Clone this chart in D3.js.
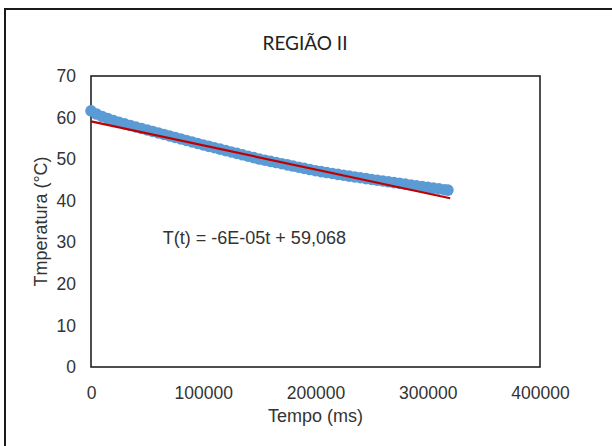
<!DOCTYPE html>
<html>
<head>
<meta charset="utf-8">
<script src="https://cdn.jsdelivr.net/npm/d3@7/dist/d3.min.js"></script>
<style>
  html, body { margin: 0; padding: 0; background: #fff; }
  svg { display: block; }
  .tick-label, .axis-title, .eq-label { font-family: 'Liberation Sans', Arial, sans-serif; fill: #333; }
  .chart-title { font-family: Lato, 'Open Sans', sans-serif; fill: #222; }
</style>
</head>
<body>
<div id="chart"></div>
<script>
(function () {
  'use strict';

  // measured samples, Região II
  var timeMs = [
    0, 5000, 10000, 15000, 20000, 25000, 30000, 35000, 40000, 45000,
    50000, 55000, 60000, 65000, 70000, 75000, 80000, 85000, 90000, 95000,
    100000, 105000, 110000, 115000, 120000, 125000, 130000, 135000, 140000, 145000,
    150000, 155000, 160000, 165000, 170000, 175000, 180000, 185000, 190000, 195000,
    200000, 205000, 210000, 215000, 220000, 225000, 230000, 235000, 240000, 245000,
    250000, 255000, 260000, 265000, 270000, 275000, 280000, 285000, 290000, 295000,
    300000, 305000, 310000, 315000, 318000
  ];
  var temperature = [
    61.60, 60.85, 60.25, 59.75, 59.30, 58.88, 58.48, 58.10, 57.73, 57.37,
    57.02, 56.66, 56.30, 55.94, 55.58, 55.22, 54.86, 54.50, 54.14, 53.78,
    53.42, 53.08, 52.74, 52.40, 52.06, 51.72, 51.38, 51.04, 50.70, 50.36,
    50.02, 49.74, 49.46, 49.18, 48.90, 48.62, 48.34, 48.06, 47.78, 47.50,
    47.22, 47.00, 46.78, 46.56, 46.34, 46.12, 45.92, 45.72, 45.52, 45.32,
    45.12, 44.93, 44.74, 44.55, 44.36, 44.17, 43.98, 43.79, 43.60, 43.41,
    43.22, 43.03, 42.84, 42.65, 42.55
  ];

  // linear trendline
  var FIT_INTERCEPT = 59.068;
  var FIT_SLOPE = -5.77e-5;
  var fitRange = [0, 320000];

  var xTicks = [0, 100000, 200000, 300000, 400000];
  var yTicks = [0, 10, 20, 30, 40, 50, 60, 70];

  var TITLE = 'REGIÃO II';
  var X_TITLE = 'Tempo (ms)';
  var Y_TITLE = 'Tmperatura (°C)';
  var EQ_TEXT = 'T(t) = -6E-05t + 59,068';

  var WIDTH = 612;
  var HEIGHT = 446;
  var MARGIN = {
    top: 76,
    right: 72,
    bottom: 79,
    left: 91
  };
  var plotW = WIDTH - MARGIN.left - MARGIN.right;
  var plotH = HEIGHT - MARGIN.top - MARGIN.bottom;

  var svg = d3.select('#chart').append('svg')
    .attr('width', WIDTH)
    .attr('height', HEIGHT);

  //outer chart frame (runs past the picture edge)
  svg.append('rect')
    .attr('x', 5)
    .attr('y', 9)
    .attr('width', 640)
    .attr('height', 480)
    .attr('fill', '#fff')
    .attr('stroke', '#1a1a1a')
    .attr('stroke-width', 2);

  var xScale = d3.scaleLinear().domain([0, 400000]).range([0, plotW]);
  var yScale = d3.scaleLinear().domain([0, 70]).range([plotH, 0]);

  var g = svg.append('g')
    .attr('transform', 'translate(' + MARGIN.left + ',' + MARGIN.top + ')');

  g.append('rect')
    .attr('width', plotW)
    .attr('height', plotH)
    .attr('fill', 'none')
    .attr('stroke', '#222')
    .attr('stroke-width', 1.6);

  // tick labels only, no tick marks
  var xAxis = d3.axisBottom(xScale).tickValues(xTicks).tickSize(0).tickPadding(20)
    .tickFormat(d3.format('d'));
  var yAxis = d3.axisLeft(yScale).tickValues(yTicks).tickSize(0).tickPadding(15);

  var gx = g.append('g').attr('transform', 'translate(0,' + plotH + ')').call(xAxis);
  var gy = g.append('g').call(yAxis);
  [gx, gy].forEach(function (ax) {
    ax.select('.domain').remove();
    ax.selectAll('text')
      .attr('class', 'tick-label')
      .style('font-size', '17.5px');
  });

  //scatter points
  var pts = timeMs.map(function (t, i) {
    return { t: t, v: temperature[i] };
  });
  g.append('g').selectAll('circle')
    .data(pts)
    .enter().append('circle')
    .attr('cx', function (d) { return xScale(d.t); })
    .attr('cy', function (d) { return yScale(d.v); })
    .attr('r', 5.8)
    .attr('fill', '#5B9BD5');

  // trendline on top
  var fitLine = d3.line()
    .x(function (t) { return xScale(t); })
    .y(function (t) { return yScale(FIT_INTERCEPT + FIT_SLOPE * t); });
  g.append('path')
    .datum(fitRange)
    .attr('d', fitLine)
    .attr('fill', 'none')
    .attr('stroke', '#C00000')
    .attr('stroke-width', 2.2);

  g.append('text')
    .attr('class', 'eq-label')
    .attr('x', xScale(64000))
    .attr('y', yScale(29.6))
    .style('font-size', '18px')
    .text(EQ_TEXT);

  svg.append('text')
    .attr('class', 'chart-title')
    .attr('x', 305)
    .attr('y', 50)
    .attr('text-anchor', 'middle')
    .style('font-size', '19px')
    .text(TITLE);

  svg.append('text')
    .attr('class', 'axis-title')
    .attr('x', MARGIN.left + plotW / 2)
    .attr('y', 422)
    .attr('text-anchor', 'middle')
    .style('font-size', '18px')
    .text(X_TITLE);

  svg.append('text')
    .attr('class', 'axis-title')
    .attr('transform', 'translate(47,' + (MARGIN.top + plotH / 2) + ')rotate(-90)')
    .attr('text-anchor', 'middle')
    .style('font-size', '18px')
    .text(Y_TITLE);
})();
</script>
</body>
</html>
